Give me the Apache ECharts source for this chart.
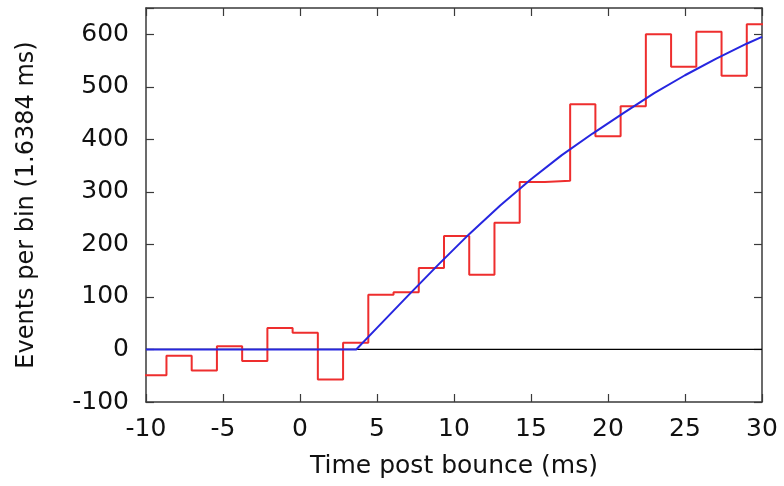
<!DOCTYPE html>
<html>
<head>
<meta charset="utf-8">
<script src="https://cdn.jsdelivr.net/npm/echarts@6/dist/echarts.min.js"></script>
<style>html,body{margin:0;padding:0;background:#fff}#c{width:784px;height:486px}</style>
</head>
<body>
<div id="c"></div>
<script>
// Histogram: bins of 1.6384 ms, first bin starts at -10.31 ms (clipped at -10)
const binStart = -10.31;
const binWidth = 1.6384;
const binCounts = [-49, -12, -40, 6, -22, 41, 32, -57, 13, 104, 109, 155, 216, 142, 241, 319, 321, 467, 406, 463, 600, 538, 605, 521, 619];

// Fit curve (blue)
const fitTimes  = [-10, 3.65, 5, 7, 9, 11, 13, 15, 17, 19, 21, 23, 25, 27, 29, 30];
const fitValues = [0, 0, 41, 102, 162, 220, 274, 324, 370, 411, 450, 488, 522, 553, 582, 595];

const xTicks = [-10, -5, 0, 5, 10, 15, 20, 25, 30];
const yTicks = [-100, 0, 100, 200, 300, 400, 500, 600];

const histData = [];
binCounts.forEach((v, i) => {
  const a = binStart + i * binWidth, b = a + binWidth;
  histData.push([a, v], [b, v]);
});
const fitData = fitTimes.map((t, i) => [t, fitValues[i]]);

const FONT = 'DejaVu Sans';
const frame = {show: true, onZero: false, lineStyle: {color: '#3a3a3a', width: 1.5}};
const tick = {show: true, inside: true, length: 8, lineStyle: {color: '#3a3a3a', width: 1.2}};

const chart = echarts.init(document.getElementById('c'));
chart.setOption({
  animation: false,
  backgroundColor: '#fff',
  grid: {left: 146, right: 22, top: 8, bottom: 84, containLabel: false},
  xAxis: [{
    type: 'value', min: xTicks[0], max: xTicks[xTicks.length - 1], interval: 5,
    position: 'bottom',
    axisLine: frame, axisTick: tick, splitLine: {show: false},
    axisLabel: {fontFamily: FONT, fontSize: 25, color: '#111', margin: 15},
    name: 'Time post bounce (ms)', nameLocation: 'middle', nameGap: 52,
    nameTextStyle: {fontFamily: FONT, fontSize: 25, color: '#111'}
  }, {
    type: 'value', min: xTicks[0], max: xTicks[xTicks.length - 1], interval: 5,
    position: 'top',
    axisLine: frame, axisTick: tick, splitLine: {show: false},
    axisLabel: {show: false}
  }],
  yAxis: [{
    type: 'value', min: yTicks[0], max: 650, interval: 100,
    position: 'left',
    axisLine: frame, axisTick: tick, splitLine: {show: false},
    axisLabel: {fontFamily: FONT, fontSize: 25, color: '#111', margin: 17,
      formatter: v => (yTicks.indexOf(v) >= 0 ? String(v) : '')},
    name: 'Events per bin (1.6384 ms)', nameLocation: 'middle', nameGap: 107,
    nameTextStyle: {fontFamily: FONT, fontSize: 24, color: '#111'}
  }, {
    type: 'value', min: yTicks[0], max: 650, interval: 100,
    position: 'right',
    axisLine: frame, axisTick: tick, splitLine: {show: false},
    axisLabel: {show: false}
  }],
  series: [{
    type: 'line', data: [[xTicks[0], 0], [xTicks[xTicks.length - 1], 0]],
    showSymbol: false, silent: true,
    lineStyle: {color: '#000', width: 1.2}
  }, {
    type: 'line', data: histData, showSymbol: false, clip: true,
    lineStyle: {color: '#ee2e2e', width: 2}
  }, {
    type: 'line', data: fitData, showSymbol: false, smooth: false, clip: true,
    lineStyle: {color: '#2626e0', width: 2}
  }]
});
</script>
</body>
</html>
